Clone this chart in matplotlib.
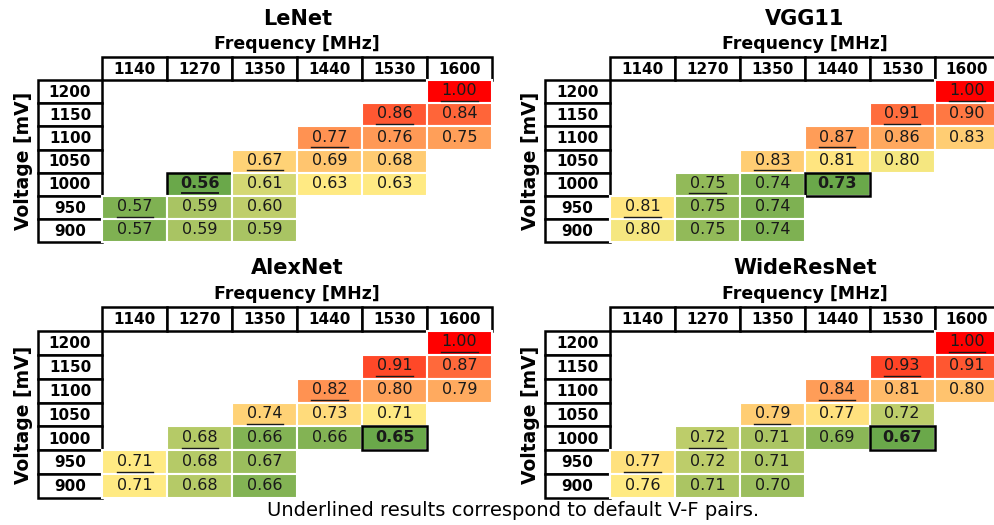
# Heatmaps of normalised energy per V-F pair, Excel style tables
import numpy as np
import matplotlib.pyplot as plt
from matplotlib.patches import Rectangle
from matplotlib.colors import LinearSegmentedColormap, TwoSlopeNorm

nan = np.nan
freqs = [1140, 1270, 1350, 1440, 1530, 1600]
volts = [1200, 1150, 1100, 1050, 1000, 950, 900]

lenet = [[nan, nan, nan, nan, nan, 1.00],
         [nan, nan, nan, nan, 0.86, 0.84],
         [nan, nan, nan, 0.77, 0.76, 0.75],
         [nan, nan, 0.67, 0.69, 0.68, nan],
         [nan, 0.56, 0.61, 0.63, 0.63, nan],
         [0.57, 0.59, 0.60, nan, nan, nan],
         [0.57, 0.59, 0.59, nan, nan, nan]]

vgg11 = [[nan, nan, nan, nan, nan, 1.00],
         [nan, nan, nan, nan, 0.91, 0.90],
         [nan, nan, nan, 0.87, 0.86, 0.83],
         [nan, nan, 0.83, 0.81, 0.80, nan],
         [nan, 0.75, 0.74, 0.73, nan, nan],
         [0.81, 0.75, 0.74, nan, nan, nan],
         [0.80, 0.75, 0.74, nan, nan, nan]]

alexnet = [[nan, nan, nan, nan, nan, 1.00],
           [nan, nan, nan, nan, 0.91, 0.87],
           [nan, nan, nan, 0.82, 0.80, 0.79],
           [nan, nan, 0.74, 0.73, 0.71, nan],
           [nan, 0.68, 0.66, 0.66, 0.65, nan],
           [0.71, 0.68, 0.67, nan, nan, nan],
           [0.71, 0.68, 0.66, nan, nan, nan]]

wideresnet = [[nan, nan, nan, nan, nan, 1.00],
              [nan, nan, nan, nan, 0.93, 0.91],
              [nan, nan, nan, 0.84, 0.81, 0.80],
              [nan, nan, 0.79, 0.77, 0.72, nan],
              [nan, 0.72, 0.71, 0.69, 0.67, nan],
              [0.77, 0.72, 0.71, nan, nan, nan],
              [0.76, 0.71, 0.70, nan, nan, nan]]

# (voltage, frequency)
default_pairs = [(1200, 1600), (1150, 1530), (1100, 1440),
                 (1050, 1350), (1000, 1270), (950, 1140)]
best = {"LeNet": (1000, 1270), "VGG11": (1000, 1440),
        "AlexNet": (1000, 1530), "WideResNet": (1000, 1530)}

cmap = LinearSegmentedColormap.from_list("gyr", ["#6AA84A", "#FFEB84", "#FF0000"])

W, H = 994, 525
fig = plt.figure(figsize=(W / 100, H / 100), dpi=100)


def draw_panel(name, data, box):
    left, top, right, bottom = box
    ax = fig.add_axes([left / W, 1 - bottom / H, (right - left) / W, (bottom - top) / H])
    ax.set_xlim(-1, len(freqs))
    ax.set_ylim(len(volts), -1)
    ax.axis("off")

    vals = np.array(data, dtype=float)
    norm = TwoSlopeNorm(vmin=np.nanmin(vals), vcenter=np.nanmedian(vals), vmax=np.nanmax(vals))

    # header row and row labels
    for j, f in enumerate(freqs):
        ax.add_patch(Rectangle((j, -1), 1, 1, facecolor="white", edgecolor="black",
                               lw=1.8, clip_on=False))
        ax.text(j + 0.5, -0.46, str(f), ha="center", va="center",
                fontsize=11, fontweight="bold", clip_on=False)
    for i, v in enumerate(volts):
        ax.add_patch(Rectangle((-1, i), 1, 1, facecolor="white", edgecolor="black",
                               lw=1.8, clip_on=False))
        ax.text(-0.5, i + 0.53, str(v), ha="center", va="center",
                fontsize=11, fontweight="bold")

    # cells
    bv, bf = best[name]
    for i, v in enumerate(volts):
        for j, f in enumerate(freqs):
            val = vals[i, j]
            if np.isnan(val):
                continue
            isbest = (v == bv and f == bf)
            ax.add_patch(Rectangle((j, i), 1, 1, facecolor=cmap(norm(val)),
                                   edgecolor="white", lw=1.5, clip_on=False))
            ax.text(j + 0.5, i + 0.46, f"{val:.2f}", ha="center", va="center",
                    fontsize=11.5, color="#1a1a1a",
                    fontweight="bold" if isbest else "normal", clip_on=False)
            if (v, f) in default_pairs:
                ax.plot([j + 0.22, j + 0.78], [i + 0.9, i + 0.9], color="#1a1a1a",
                        lw=1.4 if isbest else 1.0, clip_on=False)
            if isbest:
                ax.add_patch(Rectangle((j, i), 1, 1, facecolor="none",
                                       edgecolor="black", lw=1.8, clip_on=False))

    ax.text(len(freqs) / 2, -1.55, "Frequency [MHz]", ha="center", va="center",
            fontsize=12.5, fontweight="bold", clip_on=False)
    ax.text(len(freqs) / 2, -2.65, name, ha="center", va="center",
            fontsize=15, fontweight="bold", clip_on=False)
    ax.text(-1.22, len(volts) / 2, "Voltage [mV]", ha="center", va="center",
            rotation=90, fontsize=13.5, fontweight="bold", clip_on=False)


draw_panel("LeNet", lenet, (37.5, 57, 492, 242))
draw_panel("VGG11", vgg11, (545, 57, 999.5, 242))
draw_panel("AlexNet", alexnet, (37.5, 307, 492, 498))
draw_panel("WideResNet", wideresnet, (545, 307, 999.5, 498))

fig.text(513 / W, 1 - 511 / H, "Underlined results correspond to default V-F pairs.",
         ha="center", va="center", fontsize=14)

plt.savefig("out.png", dpi=100)
plt.close()
